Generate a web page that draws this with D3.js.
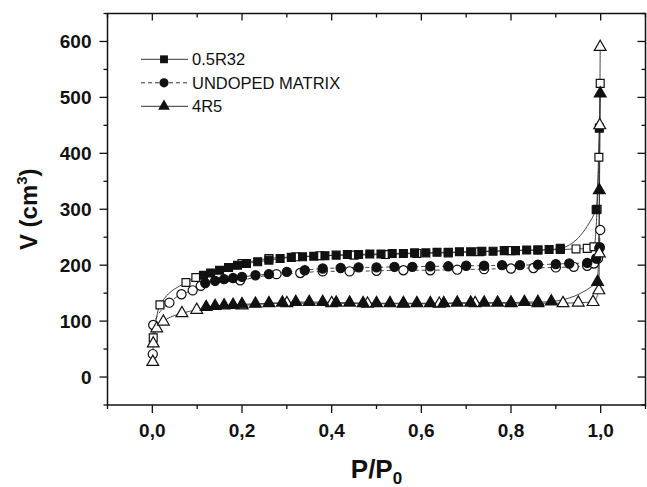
<!DOCTYPE html>
<html>
<head>
<meta charset="utf-8">
<script src="https://cdn.jsdelivr.net/npm/d3@7"></script>
<style>
  body { margin: 0; background: #fff; }
  text { font-family: Arial, "Liberation Sans", sans-serif; fill: #111; }
</style>
</head>
<body>
<div id="viz"></div>
<script>
// size of the page
const width = 647
const height = 487
// plot frame in pixels
const frame = {left: 107.5, right: 645.5, top: 13.5, bottom: 405}

// series names
const seriesNames = ["0.5R32", "UNDOPED MATRIX", "4R5"]

// axis ticks
const xTicks = [0, 0.2, 0.4, 0.6, 0.8, 1.0]
const xTickLabels = ["0,0", "0,2", "0,4", "0,6", "0,8", "1,0"]
const yTicks = [0, 100, 200, 300, 400, 500, 600]

// 0.5R32, adsorption (open) and desorption (filled), [P/P0, V]
const r32Ads = [[0.002,70],[0.017,129],[0.075,169],[0.097,178],[0.2,203],[0.26,212],[0.32,215],[0.374,217],
  [0.45,218],[0.52,219],[0.59,221],[0.66,222],[0.73,224],[0.8,226],[0.86,227],[0.91,228],[0.945,229],
  [0.97,230],[0.985,233],[0.992,300],[0.996,393],[0.999,525]]
const r32Des = [[0.114,182],[0.13,186],[0.15,191],[0.17,196],[0.19,200],[0.21,203],[0.235,206],[0.26,209],
  [0.285,212],[0.31,214],[0.335,215],[0.36,216],[0.385,217],[0.41,218],[0.435,219],[0.46,219],[0.485,220],
  [0.51,220],[0.535,221],[0.56,221],[0.585,222],[0.61,222],[0.635,223],[0.66,223],[0.685,224],[0.71,224],
  [0.735,225],[0.76,225],[0.785,226],[0.81,226],[0.835,227],[0.86,227],[0.885,228],[0.91,230],[0.99,299],[0.997,445]]

// UNDOPED MATRIX
const undAds = [[0.001,41],[0.002,93],[0.038,133],[0.065,148],[0.09,155],[0.108,163],[0.196,173],[0.277,184],
  [0.33,186],[0.38,189],[0.44,189],[0.5,190],[0.56,191],[0.62,191],[0.68,192],[0.74,193],[0.8,194],[0.85,195],
  [0.9,196],[0.94,197],[0.97,199],[0.985,203],[0.994,212],[0.997,230],[0.999,263]]
const undDes = [[0.118,168],[0.14,172],[0.16,175],[0.18,177],[0.2,179],[0.23,182],[0.26,184],[0.3,188],
  [0.34,191],[0.38,194],[0.42,195],[0.46,196],[0.5,196],[0.54,197],[0.58,197],[0.62,198],[0.66,198],[0.7,199],
  [0.74,199],[0.78,200],[0.82,200],[0.86,201],[0.9,202],[0.93,203],[0.97,204],[0.99,212],[0.998,232]]

// 4R5
const r5Ads = [[0.001,27],[0.002,60],[0.0098,87],[0.0245,99],[0.066,114],[0.099,120],[0.2,128],[0.3,132],
  [0.4,132],[0.48,131],[0.56,131],[0.64,131],[0.72,132],[0.8,132],[0.86,132],[0.916,132],[0.95,133],
  [0.983,134],[0.996,155],[0.997,221],[0.998,450],[0.999,590]]
const r5Des = [[0.12,125],[0.14,127],[0.16,128],[0.18,129],[0.2,130],[0.23,131],[0.26,132],[0.29,133],
  [0.32,134],[0.35,134],[0.38,134],[0.41,133],[0.44,133],[0.47,132],[0.5,132],[0.53,132],[0.56,132],
  [0.59,132],[0.62,132],[0.65,132],[0.68,133],[0.71,133],[0.74,133],[0.77,133],[0.8,133],[0.83,134],
  [0.86,134],[0.89,135],[0.993,170],[0.997,334],[0.999,507]]

// symbols and line dashes per series
const symbols = [d3.symbolSquare, d3.symbolCircle, d3.symbolTriangle]
const symbolSizes = [62, 66, 60]
const dashes = [null, "4,3", null]
const seriesData = [[r32Ads, r32Des], [undAds, undDes], [r5Ads, r5Des]]

var svg = d3.select("#viz")
  .append("svg")
  .attr("width", width)
  .attr("height", height)

// scales
const x = d3.scaleLinear().domain([-0.1, 1.1]).range([frame.left, frame.right])
const y = d3.scaleLinear().domain([-50, 650]).range([frame.bottom, frame.top])

// frame
svg.append("rect")
  .attr("x", frame.left).attr("y", frame.top)
  .attr("width", frame.right - frame.left).attr("height", frame.bottom - frame.top)
  .attr("fill", "none").attr("stroke", "#111").attr("stroke-width", 1.5)

// minor tick values
const xMinor = d3.range(-0.1, 1.15, 0.2)
const yMinor = d3.range(-50, 651, 100)

// bottom axis, ticks outward
const xAxis = svg.append("g").attr("transform", "translate(0," + frame.bottom + ")")
xAxis.selectAll(".maj").data(xTicks).enter().append("line")
  .attr("x1", d => x(d)).attr("x2", d => x(d)).attr("y1", 0).attr("y2", 8)
xAxis.selectAll(".min").data(xMinor).enter().append("line")
  .attr("x1", d => x(d)).attr("x2", d => x(d)).attr("y1", 0).attr("y2", 4)
xAxis.selectAll("line").attr("stroke", "#111").attr("stroke-width", 1.3)
xAxis.selectAll("text").data(xTicks).enter().append("text")
  .attr("x", d => x(d)).attr("y", 32)
  .attr("text-anchor", "middle")
  .attr("font-size", 19).attr("font-weight", "bold")
  .text((d, i) => xTickLabels[i])

// top axis, ticks inward
const xTop = svg.append("g").attr("transform", "translate(0," + frame.top + ")")
xTop.selectAll(".maj").data(xTicks).enter().append("line")
  .attr("x1", d => x(d)).attr("x2", d => x(d)).attr("y1", 0).attr("y2", 7)
xTop.selectAll(".min").data(xMinor).enter().append("line")
  .attr("x1", d => x(d)).attr("x2", d => x(d)).attr("y1", 0).attr("y2", 4)
xTop.selectAll("line").attr("stroke", "#111").attr("stroke-width", 1.3)

// left axis, ticks outward
const yAxis = svg.append("g").attr("transform", "translate(" + frame.left + ",0)")
yAxis.selectAll(".maj").data(yTicks).enter().append("line")
  .attr("y1", d => y(d)).attr("y2", d => y(d)).attr("x1", 0).attr("x2", -8)
yAxis.selectAll(".min").data(yMinor).enter().append("line")
  .attr("y1", d => y(d)).attr("y2", d => y(d)).attr("x1", 0).attr("x2", -4)
yAxis.selectAll("line").attr("stroke", "#111").attr("stroke-width", 1.3)
yAxis.selectAll("text").data(yTicks).enter().append("text")
  .attr("x", -16).attr("y", d => y(d) + 7)
  .attr("text-anchor", "end")
  .attr("font-size", 19).attr("font-weight", "bold")
  .text(d => d)

// right axis, ticks inward
const yRight = svg.append("g").attr("transform", "translate(" + frame.right + ",0)")
yRight.selectAll(".maj").data(yTicks).enter().append("line")
  .attr("y1", d => y(d)).attr("y2", d => y(d)).attr("x1", 0).attr("x2", -8)
yRight.selectAll(".min").data(yMinor).enter().append("line")
  .attr("y1", d => y(d)).attr("y2", d => y(d)).attr("x1", 0).attr("x2", -4)
yRight.selectAll("line").attr("stroke", "#111").attr("stroke-width", 1.3)

// axis titles
const xTitle = svg.append("text")
  .attr("x", (frame.left + frame.right) / 2).attr("y", 478)
  .attr("text-anchor", "middle")
  .attr("font-size", 26).attr("font-weight", "bold")
xTitle.append("tspan").text("P/P")
xTitle.append("tspan").attr("font-size", 17).attr("dy", 6).text("0")

const yTitle = svg.append("text")
  .attr("transform", "translate(37," + ((frame.top + frame.bottom) / 2) + ") rotate(-90)")
  .attr("text-anchor", "middle")
  .attr("font-size", 24).attr("font-weight", "bold")
yTitle.append("tspan").text("V (cm")
yTitle.append("tspan").attr("font-size", 15).attr("dy", -10).text("3")
yTitle.append("tspan").attr("dy", 10).text(")")

// line generator
const line = d3.line()
  .x(d => x(d[0]))
  .y(d => y(d[1]))
  .curve(d3.curveMonotoneX)

const plot = svg.append("g")

// draw each series: lines, open adsorption markers, filled desorption markers
seriesData.forEach(function (branches, i) {
  branches.forEach(function (pts) {
    plot.append("path")
      .datum(pts)
      .attr("d", line)
      .attr("fill", "none")
      .attr("stroke", "#333")
      .attr("stroke-width", 0.9)
      .attr("stroke-dasharray", dashes[i])
  })
})
seriesData.forEach(function (branches, i) {
  const sym = d3.symbol().type(symbols[i]).size(symbolSizes[i])
  branches.forEach(function (pts, b) {
    plot.selectAll(null)
      .data(pts)
      .enter()
      .append("path")
      .attr("d", sym)
      .attr("transform", d => "translate(" + x(d[0]) + "," + y(d[1]) + ")")
      .attr("fill", b == 0 ? "#fff" : "#111")
      .attr("stroke", "#111")
      .attr("stroke-width", 1.2)
  })
})

// legend
const legend = svg.append("g")
seriesNames.forEach(function (name, i) {
  const ly = 59.3 + i * 23.5
  legend.append("line")
    .attr("x1", 141).attr("x2", 188).attr("y1", ly).attr("y2", ly)
    .attr("stroke", "#333").attr("stroke-width", 1)
    .attr("stroke-dasharray", dashes[i])
  legend.append("path")
    .attr("d", d3.symbol().type(symbols[i]).size(symbolSizes[i]))
    .attr("transform", "translate(164," + ly + ")")
    .attr("fill", "#111")
  legend.append("text")
    .attr("x", 192).attr("y", ly + 6)
    .attr("font-size", 16.5)
    .text(name)
})
</script>
</body>
</html>
